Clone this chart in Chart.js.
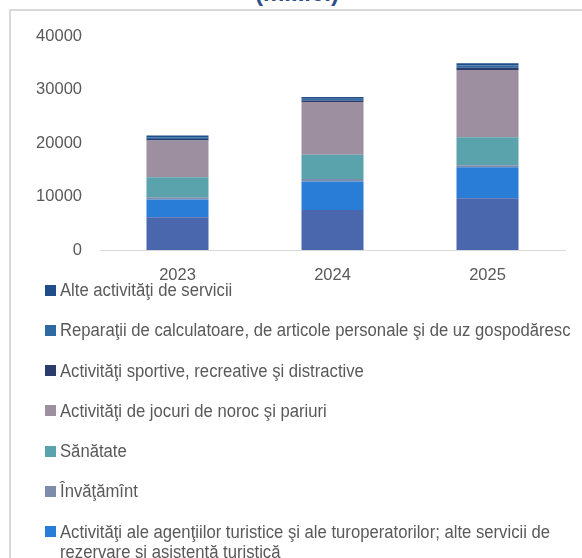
<!DOCTYPE html>
<html>
<head>
<meta charset="utf-8">
<script src="https://cdn.jsdelivr.net/npm/chart.js@4/dist/chart.umd.min.js"></script>
<style>
  html, body { margin: 0; padding: 0; background: #fff; overflow: hidden; }
  body { width: 582px; height: 558px; position: relative; }
  #frame { position: absolute; left: 9px; top: 9px; width: 700px; height: 700px;
           border-top: 2px solid #d9d9d9; border-left: 2px solid #d9d9d9; box-sizing: border-box; }
  #title { position: absolute; left: 255px; top: -19px; white-space: nowrap;
           font: bold 24px 'Liberation Sans', Arial, sans-serif; line-height: 24px; color: #2f4d8c; }
  #chartWrap { position: absolute; left: 0; top: 0; width: 582px; height: 300px; }
  #legend { position: absolute; left: 45px; top: 280px; width: 560px;
            font-family: 'Liberation Sans', Arial, sans-serif;
            font-size: 18px; line-height: 20.5px; color: #595959; }
  .item { position: relative; margin-bottom: 20.3px; height: 20px; }
  .box { position: absolute; left: 0; top: 4.5px; width: 11px; height: 11px; }
  .txt { position: absolute; left: 15px; top: 0; width: 556px; white-space: normal;
         transform: scaleX(0.926); transform-origin: 0 0; }
</style>
</head>
<body>
<div id="title">(mil.lei)</div>
<div id="frame"></div>
<div id="chartWrap"><canvas id="c" width="582" height="300"></canvas></div>
<div id="legend"></div>
<script>
// ---- data ----
const categories = ['2023', '2024', '2025'];
const cazare     = [6100, 7500, 9650];
const agentii    = [3350, 5300, 5800];
const invatamant = [400, 450, 380];
const sanatate   = [3750, 4550, 5230];
const jocuri     = [6850, 9850, 12580];
const sportive   = [320, 300, 420];
const reparatii  = [320, 320, 420];
const alte       = [330, 320, 420];
const yTicks     = [0, 10000, 20000, 30000, 40000];

const seriesNames = [
  'Activităţi de cazare şi alimentaţie publică',
  'Activităţi ale agenţiilor turistice şi ale turoperatorilor; alte servicii de rezervare şi asistenţă turistică',
  'Învăţămînt',
  'Sănătate',
  'Activităţi de jocuri de noroc şi pariuri',
  'Activităţi sportive, recreative şi distractive',
  'Reparaţii de calculatoare, de articole personale şi de uz gospodăresc',
  'Alte activităţi de servicii'
];
const seriesData = [cazare, agentii, invatamant, sanatate, jocuri, sportive, reparatii, alte];
const seriesColors = ['#4a66ad', '#2a7dd6', '#7d8cab', '#5ba3ac', '#9e8fa0', '#2b3b6b', '#2e69a0', '#1f4d88'];

const datasets = seriesNames.map((n, i) => ({
  label: n,
  data: seriesData[i],
  backgroundColor: seriesColors[i],
  borderWidth: 0,
  categoryPercentage: 1.0,
  barPercentage: 0.4
}));

const chart = new Chart(document.getElementById('c'), {
  type: 'bar',
  data: { labels: categories, datasets },
  options: {
    responsive: false,
    animation: false,
    devicePixelRatio: 1,
    layout: { padding: { left: 0, right: 17, top: 36, bottom: 0 } },
    plugins: { legend: { display: false }, title: { display: false }, tooltip: { enabled: false } },
    scales: {
      x: {
        stacked: true,
        grid: { display: false, drawTicks: false },
        border: { display: true, color: '#d9d9d9', width: 1 },
        ticks: { color: '#595959', padding: 16, font: { family: "'Liberation Sans', Arial, sans-serif", size: 16.5 } },
        afterFit: (s) => { s.height = 50; }
      },
      y: {
        stacked: true,
        min: 0, max: 40000,
        afterBuildTicks: (s) => { s.ticks = yTicks.map(v => ({ value: v })); },
        grid: { display: false, drawTicks: false },
        border: { display: false },
        ticks: { color: '#595959', padding: 18, font: { family: "'Liberation Sans', Arial, sans-serif", size: 16.5 },
                 callback: (v) => String(v) },
        afterFit: (s) => { s.width = 100; }
      }
    }
  }
});

// legend built from the chart's datasets (top of stack first)
const lg = document.getElementById('legend');
chart.data.datasets.slice().reverse().forEach(ds => {
  const it = document.createElement('div');
  it.className = 'item';
  const b = document.createElement('span');
  b.className = 'box';
  b.style.background = ds.backgroundColor;
  const t = document.createElement('span');
  t.className = 'txt';
  t.textContent = ds.label;
  it.appendChild(b);
  it.appendChild(t);
  lg.appendChild(it);
});
</script>
</body>
</html>
